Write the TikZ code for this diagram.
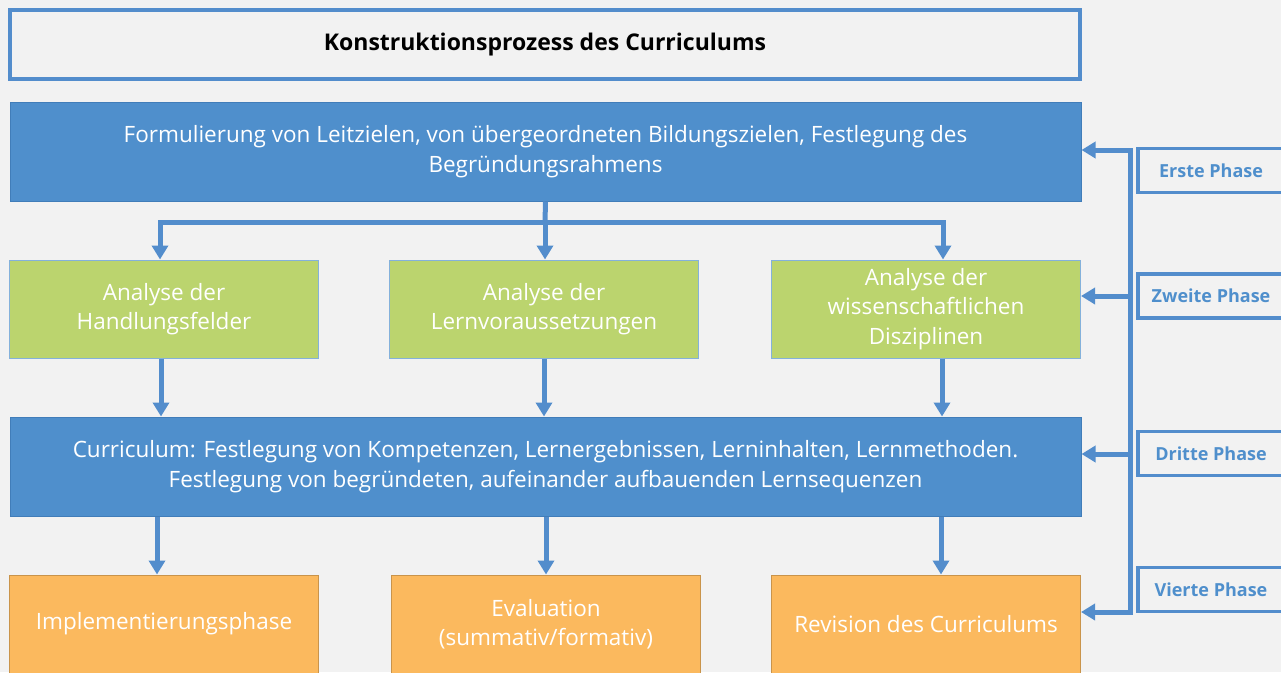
\documentclass[tikz,border=0pt]{standalone}
\usepackage{fontspec}
\setmainfont{Open Sans}
\usetikzlibrary{arrows.meta}
\definecolor{hgrund}{RGB}{242,242,242}
\definecolor{blaufeld}{RGB}{79,143,204}
\definecolor{blaurand}{RGB}{65,125,185}
\definecolor{linienblau}{RGB}{83,141,204}
\definecolor{gruenfeld}{RGB}{187,212,110}
\definecolor{orangefeld}{RGB}{251,185,94}

\begin{document}
\begin{tikzpicture}[x=1pt,y=-1pt,
        feld/.style={draw,line width=1pt,text=white,align=center,inner sep=0pt,
                     font=\fontsize{22.5}{29.5}\selectfont},
        blaubox/.style={feld,fill=blaufeld,draw=blaurand,minimum width=1071pt,minimum height=99pt},
        gruenbox/.style={feld,fill=gruenfeld,draw=blaufeld!70,minimum width=309pt,minimum height=98pt},
        orangebox/.style={feld,fill=orangefeld,draw=orangefeld!80!black,minimum width=309pt,minimum height=98pt},
        phasebox/.style={draw=linienblau,line width=3.5pt,fill=hgrund,text=blaufeld,inner sep=0pt,
                     minimum width=146pt,minimum height=44pt,font=\fontsize{18}{22}\selectfont\bfseries},
        linie/.style={draw=linienblau,line width=5pt},
        pfeil/.style={linie,-{Triangle[width=16pt,length=14pt]}}]
    \clip ( 0,0 ) rectangle ( 1281,672 );
    \fill [hgrund] ( 0,0 ) rectangle ( 1281,672 );
    \node [draw=linienblau,line width=3.5pt,fill=hgrund,minimum width=1070pt,minimum height=69pt,
           font=\fontsize{23}{27}\selectfont\bfseries] (titel) at ( 545,44.5 ) {Konstruktionsprozess des Curriculums};
    \node [blaubox] (leitziele) at ( 545.5,151.5 ) {Formulierung von Leitzielen, von übergeordneten Bildungszielen, Festlegung des\\Begründungsrahmens};
    \node [gruenbox] (handlung) at ( 164,309 ) {Analyse der\\Handlungsfelder};
    \node [gruenbox] (lernvor) at ( 544,309 ) {Analyse der\\Lernvoraussetzungen};
    \node [gruenbox] (disziplin) at ( 926,309 ) {Analyse der\\wissenschaftlichen\\Disziplinen};
    \node [blaubox] (curriculum) at ( 545.5,466.5 ) {Curriculum: Festlegung von Kompetenzen, Lernergebnissen, Lerninhalten, Lernmethoden.\\Festlegung von begründeten, aufeinander aufbauenden Lernsequenzen};
    \node [orangebox] (implement) at ( 164,624 ) {Implementierungsphase};
    \node [orangebox] (evaluation) at ( 546,624 ) {Evaluation\\(summativ/formativ)};
    \node [orangebox] (revision) at ( 926,624 ) {Revision des Curriculums};
    \node [phasebox] (erste) at ( 1211,170.5 ) {Erste Phase};
    \node [phasebox] (zweite) at ( 1211,296 ) {Zweite Phase};
    \node [phasebox] (dritte) at ( 1211,453.5 ) {Dritte Phase};
    \node [phasebox] (vierte) at ( 1211,589.5 ) {Vierte Phase};
    \coordinate (verteiler) at ( 545,222 );
    \draw [linie] (leitziele.south) -- (verteiler);
    \draw [pfeil] ([xshift=2pt]verteiler) -| ([xshift=-4pt]handlung.north);
    \draw [pfeil] (verteiler) -- (verteiler |- lernvor.north);
    \draw [pfeil] ([xshift=-2pt]verteiler) -| ([xshift=17pt]disziplin.north);
    \draw [pfeil] ([xshift=-3pt]handlung.south) -- ([xshift=-3pt]handlung.south |- curriculum.north);
    \draw [pfeil] (lernvor.south) -- (lernvor.south |- curriculum.north);
    \draw [pfeil] ([xshift=16pt]disziplin.south) -- ([xshift=16pt]disziplin.south |- curriculum.north);
    \draw [pfeil] ([xshift=-7pt]curriculum.south -| implement) -- ([xshift=-7pt]implement.north);
    \draw [pfeil] (curriculum.south -| evaluation) -- (evaluation.north);
    \draw [pfeil] ([xshift=15pt]curriculum.south -| revision) -- ([xshift=15pt]revision.north);
    \coordinate (schiene1) at ( 1130,150 );
    \coordinate (schiene2) at ( 1130,296 );
    \coordinate (schiene3) at ( 1130,454 );
    \coordinate (schiene4) at ( 1130,612 );
    \draw [linie,{Triangle[width=16pt,length=14pt]}-{Triangle[width=16pt,length=14pt]}]
          (revision.east |- schiene4) -- (schiene4) -- (schiene1) -- (leitziele.east |- schiene1);
    \draw [pfeil] (schiene2) -- (disziplin.east |- schiene2);
    \draw [pfeil] (schiene3) -- (curriculum.east |- schiene3);
\end{tikzpicture}
\end{document}
